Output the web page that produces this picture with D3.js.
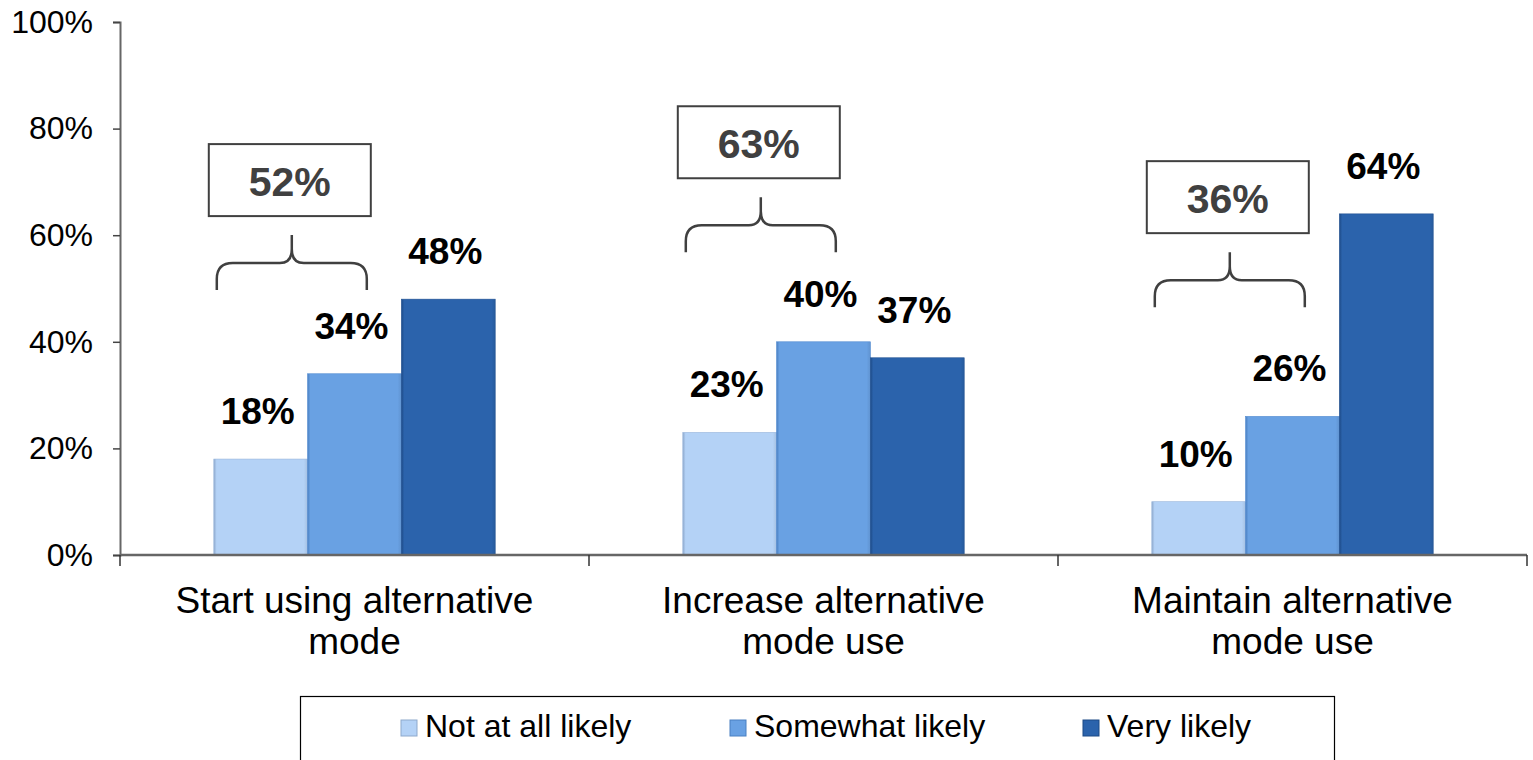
<!DOCTYPE html>
<html>
<head>
<meta charset="utf-8">
<script src="https://cdn.jsdelivr.net/npm/d3@7/dist/d3.min.js"></script>
<style>
  html, body { margin: 0; padding: 0; background: #fff; }
  svg { display: block; font-family: "Liberation Sans", Arial, sans-serif; }
</style>
</head>
<body>
<svg id="chart" width="1533" height="760"></svg>
<script>
// Likelihood of alternative travel mode use, by scenario
const categories = [
  ["Start using alternative", "mode"],
  ["Increase alternative", "mode use"],
  ["Maintain alternative", "mode use"]
];
const seriesNames = ["Not at all likely", "Somewhat likely", "Very likely"];
const notAtAllLikely = [18, 23, 10];
const somewhatLikely = [34, 40, 26];
const veryLikely = [48, 37, 64];
// Combined share shown in the boxed call-outs (not at all + somewhat)
const combinedShare = [52, 63, 36];
// Level (in % units) where each call-out brace sits
const braceLevel = [49.7, 56.8, 46.5];
const yTicks = [0, 20, 40, 60, 80, 100];

const colors = ["#b4d2f6", "#69a1e3", "#2b63ac"];
const edgeColors = ["#8ea9cc", "#4a80c2", "#1d4a86"];

const svg = d3.select("#chart");
const plotLeft = 120, plotRight = 1527, plotTop = 22, plotBottom = 555;

const catKeys = categories.map(c => c.join(" "));
const x = d3.scaleBand().domain(catKeys).range([plotLeft, plotRight]).paddingInner(0).paddingOuter(0);
const xs = d3.scaleBand().domain(seriesNames).range([0, x.bandwidth()]).paddingInner(0).paddingOuter(1);
const y = d3.scaleLinear().domain([0, 100]).range([plotBottom, plotTop]);

// gradients giving the bars a slight bevelled edge
const defs = svg.append("defs");
colors.forEach((c, i) => {
  const g = defs.append("linearGradient").attr("id", "grad" + i)
    .attr("x1", "0%").attr("x2", "100%").attr("y1", "0%").attr("y2", "0%");
  g.append("stop").attr("offset", "0%").attr("stop-color", edgeColors[i]);
  g.append("stop").attr("offset", "3%").attr("stop-color", c);
  g.append("stop").attr("offset", "96%").attr("stop-color", c);
  g.append("stop").attr("offset", "100%").attr("stop-color", d3.color(c).darker(0.25));
});

const series = [notAtAllLikely, somewhatLikely, veryLikely];
const rows = [];
catKeys.forEach((k, ci) => {
  series.forEach((vals, si) => rows.push({ cat: k, ci, si, name: seriesNames[si], v: vals[ci] }));
});

// bars
svg.append("g").selectAll("rect").data(rows).join("rect")
  .attr("x", d => x(d.cat) + xs(d.name))
  .attr("y", d => y(d.v))
  .attr("width", xs.bandwidth())
  .attr("height", d => y(0) - y(d.v))
  .attr("fill", d => `url(#grad${d.si})`)
  .attr("stroke", d => d3.color(edgeColors[d.si]).brighter(0.2))
  .attr("stroke-width", 0.6);

// value labels
svg.append("g").selectAll("text").data(rows).join("text")
  .attr("x", d => x(d.cat) + xs(d.name) + xs.bandwidth() / 2 - 3)
  .attr("y", d => y(d.v) - 35)
  .attr("text-anchor", "middle")
  .attr("font-size", 37)
  .attr("font-weight", "bold")
  .attr("fill", "#000")
  .text(d => d.v + "%");

// y axis
const yAxis = d3.axisLeft(y).tickValues(yTicks).tickFormat(d => d + "%").tickSize(7).tickPadding(20);
const gy = svg.append("g").attr("transform", `translate(${plotLeft},0)`).call(yAxis);
gy.select(".domain").attr("stroke", "#666").attr("stroke-width", 2);
gy.selectAll(".tick line").attr("stroke", "#444").attr("stroke-width", 1.5);
gy.selectAll(".tick text").attr("font-size", 32).attr("fill", "#000")
  .attr("font-family", "'Liberation Sans', Arial, sans-serif");

// x axis: baseline with ticks on band boundaries
svg.append("line").attr("x1", plotLeft).attr("x2", plotRight).attr("y1", plotBottom).attr("y2", plotBottom)
  .attr("stroke", "#666").attr("stroke-width", 2.5);
const boundaries = catKeys.map(k => x(k)).concat([x(catKeys[catKeys.length - 1]) + x.bandwidth()]);
svg.append("g").selectAll("line").data(boundaries).join("line")
  .attr("x1", d => d).attr("x2", d => d)
  .attr("y1", plotBottom).attr("y2", plotBottom + 11)
  .attr("stroke", "#333").attr("stroke-width", 1.5);

// category labels (two lines)
const catG = svg.append("g").selectAll("text").data(categories).join("text")
  .attr("text-anchor", "middle")
  .attr("font-size", 37)
  .attr("fill", "#000");
catG.each(function (lines, i) {
  const cx = x(catKeys[i]) + x.bandwidth() / 2;
  d3.select(this).selectAll("tspan").data(lines).join("tspan")
    .attr("x", cx)
    .attr("y", (d, j) => 613 + j * 41)
    .text(d => d);
});

// brace + boxed combined share
const brace = (x0, x1, yb) => {
  const yh = yb - 27, tip = yh - 28, xm = (x0 + x1) / 2, r = 16;
  return `M${x0},${yb} L${x0},${yh + r} Q${x0},${yh} ${x0 + r},${yh} L${xm - 12},${yh} ` +
         `Q${xm},${yh} ${xm},${yh - 14} L${xm},${tip} ` +
         `M${xm},${yh - 14} Q${xm},${yh} ${xm + 12},${yh} L${x1 - r},${yh} ` +
         `Q${x1},${yh} ${x1},${yh + r} L${x1},${yb}`;
};
const ann = svg.append("g");
catKeys.forEach((k, i) => {
  const bx = x(k) + xs(seriesNames[0]);
  const yb = y(braceLevel[i]);
  ann.append("path")
    .attr("d", brace(bx + 3, bx + 153, yb))
    .attr("fill", "none").attr("stroke", "#404040").attr("stroke-width", 2.5);
  const boxTop = yb - 146;
  ann.append("rect")
    .attr("x", bx - 5).attr("y", boxTop).attr("width", 162).attr("height", 72)
    .attr("fill", "#fff").attr("stroke", "#404040").attr("stroke-width", 2);
  ann.append("text")
    .attr("x", bx - 5 + 81).attr("y", boxTop + 52)
    .attr("text-anchor", "middle")
    .attr("font-size", 41).attr("font-weight", "bold").attr("fill", "#404040")
    .text(combinedShare[i] + "%");
});

// legend
const lg = svg.append("g");
lg.append("rect").attr("x", 300.5).attr("y", 696.5).attr("width", 1034).attr("height", 90)
  .attr("fill", "#fff").attr("stroke", "#000").attr("stroke-width", 1.2);
const legendX = [401, 730, 1083];
seriesNames.forEach((n, i) => {
  lg.append("rect").attr("x", legendX[i]).attr("y", 720).attr("width", 16).attr("height", 16)
    .attr("fill", colors[i]).attr("stroke", edgeColors[i]).attr("stroke-width", 1);
  lg.append("text").attr("x", legendX[i] + 24).attr("y", 737)
    .attr("font-size", 32).attr("fill", "#000").text(n);
});
</script>
</body>
</html>
